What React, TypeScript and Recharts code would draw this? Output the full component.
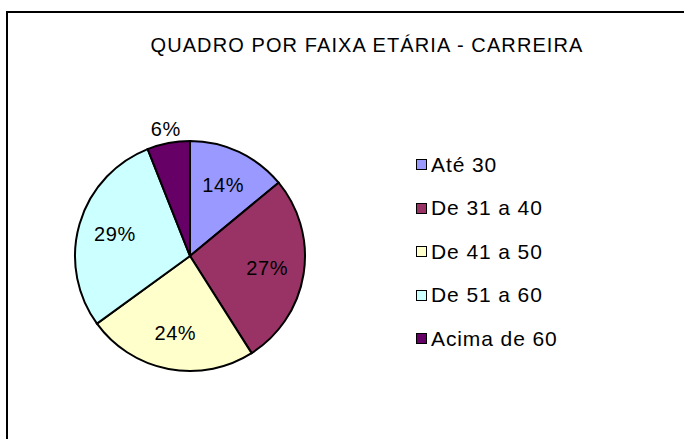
import React from 'react';
import { PieChart, Pie, Cell, Legend } from 'recharts';

const categories = ['Até 30', 'De 31 a 40', 'De 41 a 50', 'De 51 a 60', 'Acima de 60'];
const values = [14, 27, 24, 29, 6];
const colors = ['#9999FF', '#993366', '#FFFFCC', '#CCFFFF', '#660066'];

const title = 'QUADRO POR FAIXA ETÁRIA - CARREIRA';

const data = categories.map((name, i) => ({ name, value: values[i] }));

const FONT = '"Liberation Sans", Arial, sans-serif';
const RADIAN = Math.PI / 180;

const renderLabel = (props: any) => {
    const { cx, cy, midAngle, outerRadius, percent } = props;
    // small slices get their label outside, like Excel's best fit
    const r = percent < 0.1 ? outerRadius + 14 : outerRadius * 0.68;
    const x = cx + r * Math.cos(-midAngle * RADIAN);
    const y = cy + r * Math.sin(-midAngle * RADIAN);
    return (
        <text
            x={x}
            y={y}
            fill="#000"
            textAnchor="middle"
            dominantBaseline="central"
            fontSize={20}
            fontFamily={FONT}
            letterSpacing={0.6}
        >
            {`${Math.round(percent * 100)}%`}
        </text>
    );
};

// legend keeps the data order (recharts would sort it by name)
const renderLegend = () => (
    <div style={{ fontFamily: FONT }}>
        {categories.map((name, index) => (
            <div
                key={`item-${index}`}
                style={{ display: 'flex', alignItems: 'center', height: 43.5 }}
            >
                <span
                    style={{
                        display: 'inline-block',
                        width: 9,
                        height: 9,
                        background: colors[index],
                        border: '1.5px solid #000',
                        marginRight: 4,
                    }}
                />
                <span style={{ fontSize: 21, color: '#000', letterSpacing: 0.9 }}>{name}</span>
            </div>
        ))}
    </div>
);

export default function App() {
    return (
        <div style={{ position: 'absolute', left: 0, top: 0, width: 684, height: 439, background: '#fff' }}>
            <div
                style={{
                    position: 'absolute',
                    left: 6,
                    top: 11,
                    width: 690,
                    height: 440,
                    borderTop: '2px solid #000',
                    borderLeft: '2px solid #000',
                }}
            />
            <div
                style={{
                    position: 'absolute',
                    left: 142,
                    width: 450,
                    top: 34,
                    textAlign: 'center',
                    fontFamily: FONT,
                    fontSize: 20,
                    letterSpacing: 1.1,
                    color: '#000',
                    whiteSpace: 'nowrap',
                }}
            >
                {title}
            </div>
            <div style={{ position: 'absolute', left: 0, top: 0 }}>
                <PieChart width={684} height={439} margin={{ top: 0, right: 0, bottom: 0, left: 0 }}>
                    <Pie
                        data={data}
                        dataKey="value"
                        nameKey="name"
                        cx={190}
                        cy={256}
                        outerRadius={115}
                        startAngle={90}
                        endAngle={-270}
                        stroke="#000"
                        strokeWidth={2}
                        label={renderLabel}
                        labelLine={false}
                        isAnimationActive={false}
                    >
                        {data.map((entry, index) => (
                            <Cell key={`cell-${index}`} fill={colors[index]} />
                        ))}
                    </Pie>
                    <Legend
                        layout="vertical"
                        content={renderLegend}
                        wrapperStyle={{ left: 416, top: 143, width: 200 }}
                    />
                </PieChart>
            </div>
        </div>
    );
}
